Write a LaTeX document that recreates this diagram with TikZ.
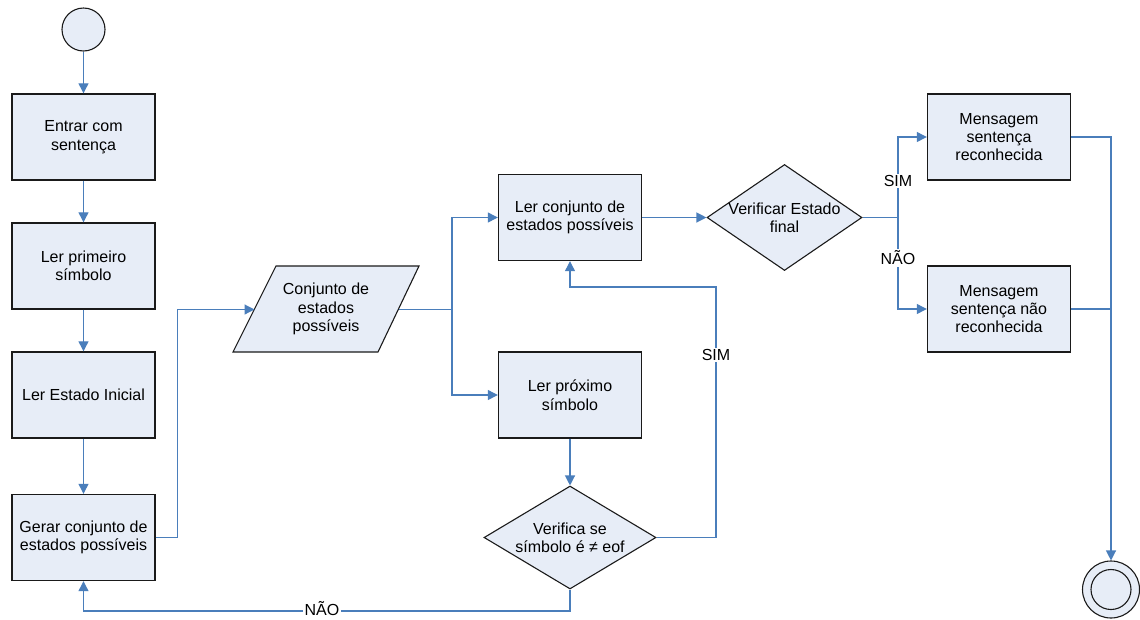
\documentclass[tikz,border=0pt]{standalone}
\usepackage{fontspec}
\setmainfont{Liberation Sans}
\usetikzlibrary{shapes.geometric,arrows.meta,calc}

\definecolor{boxfill}{HTML}{E7EDF7}
\definecolor{linkblue}{HTML}{4A7EBB}
\definecolor{edgegray}{HTML}{1A1A1A}

\tikzset{
  txt/.style={font=\fontsize{16}{18.4}\selectfont, align=center, inner sep=0pt},
  stepbox/.style={txt, draw=edgegray, line width=1.4pt, fill=boxfill,
    minimum width=143pt, minimum height=86pt},
  choice/.style={diamond, draw=edgegray, line width=1.1pt, fill=boxfill,
    inner sep=0pt, shape aspect=#1},
  terminal/.style={circle, draw=edgegray, line width=1.1pt, fill=boxfill, inner sep=0pt},
  link/.style={draw=linkblue, line width=1.2pt},
  conn/.style={link, -{Triangle[length=10pt,width=10pt]}},
  tag/.style={txt, fill=white, inner sep=1.5pt},
}

\begin{document}
\begin{tikzpicture}[x=1pt, y=-1pt]
\useasboundingbox (0,0) rectangle (1140,619);

% start and end states
\node[terminal, minimum size=43pt] (start) at (83.5,29.5) {};
\node[terminal, minimum size=57pt] (endc) at (1111,589.5) {};
\draw[edgegray, line width=1.1pt] (endc.center) circle[radius=20pt];

% left column
\node[stepbox] (entrar) at (83.5,137) {Entrar com\\sentença};
\node[stepbox] (primeiro) at (83.5,266) {Ler primeiro\\símbolo};
\node[stepbox] (inicial) at (83.5,395) {Ler Estado Inicial};
\node[stepbox] (gerar) at (83.5,537.5) {Gerar conjunto de\\estados possíveis};

% input/output parallelogram
\path[draw=edgegray, line width=1.1pt, fill=boxfill]
  (276,266) -- (419,266) -- (378,352) -- (233,352) -- cycle;
\node[txt] (conj) at (326,309) {Conjunto de\\estados\\possíveis};
\coordinate (conjL) at (254.5,309.5);
\coordinate (conjR) at (398.5,309.5);

% middle column
\node[stepbox] (lerconj) at (570,217.5) {Ler conjunto de\\estados possíveis};
\node[stepbox] (lerprox) at (570,395) {Ler próximo\\símbolo};
\node[choice=1.67, minimum width=172pt, minimum height=103pt] (eof) at (570,537.5) {};
\node[txt] (eoftext) at (eof.center) {Verifica se\\símbolo é ≠ eof};

% right part
\node[choice=1.46, minimum width=155pt, minimum height=106pt] (final) at (784.5,217.5) {};
\node[txt] (finaltext) at (final.center) {Verificar Estado\\final};
\node[stepbox] (reconh) at (999,137) {Mensagem\\sentença\\reconhecida};
\node[stepbox] (naoreconh) at (999,309) {Mensagem\\sentença não\\reconhecida};

% turning points
\coordinate (simturn) at (716,287);
\coordinate (naoturn) at (570,611);
\coordinate (split) at (452,309.5);
\coordinate (fork) at (898,217.5);

% connectors
\draw[conn] (start) -- (entrar);
\draw[conn] (entrar) -- (primeiro);
\draw[conn] (primeiro) -- (inicial);
\draw[conn] (inicial) -- (gerar);
\draw[conn] (gerar.east) -- ++(22,0) |- (conjL);
\draw[link] (conjR) -- (split);
\draw[conn] (split) |- (lerconj.west);
\draw[conn] (split) |- (lerprox.west);
\draw[conn] (lerconj.east) -- (final.west);
\draw[conn] (lerprox.south) -- (eof.north);
\draw[conn] (eof.east) -| (simturn) -| (lerconj.south);
\draw[conn] (eof.south) -- (naoturn) -| (gerar.south);
\draw[link] (final.east) -- (fork);
\draw[conn] (fork) |- (reconh.west);
\draw[conn] (fork) |- (naoreconh.west);
\draw[conn] (reconh.east) -| (endc.north);
\draw[link] (naoreconh.east) -- (naoreconh.east -| endc.north);

% branch labels
\node[tag] (simA) at (716,355) {SIM};
\node[tag] (naoA) at (322,609) {NÃO};
\node[tag] (simB) at (898,181) {SIM};
\node[tag] (naoB) at (898,258) {NÃO};
\end{tikzpicture}
\end{document}
